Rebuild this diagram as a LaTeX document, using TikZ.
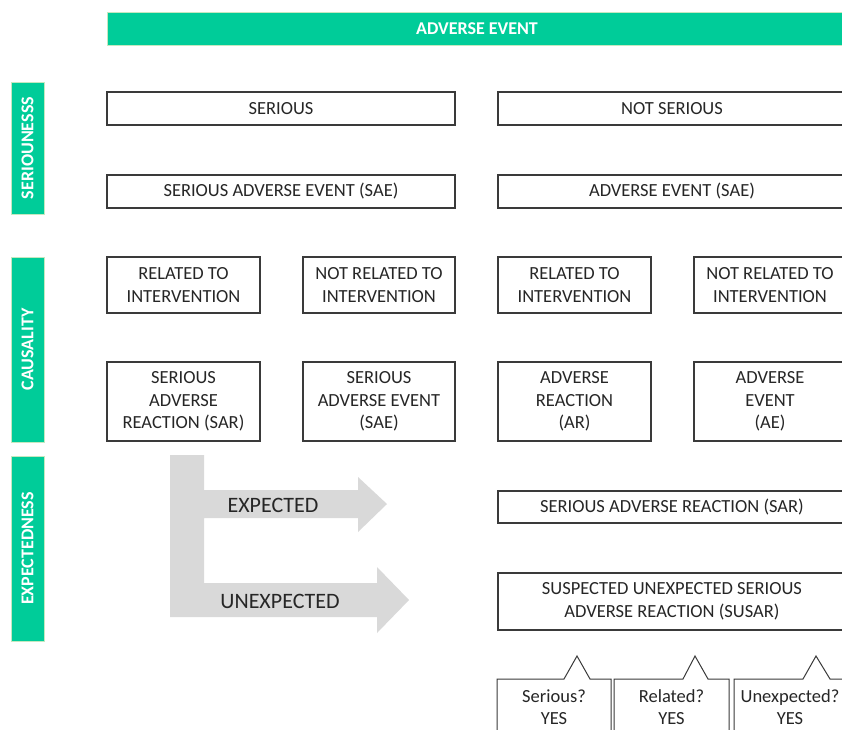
\documentclass[tikz,border=0pt]{standalone}
\usepackage{fontspec}
\setmainfont{Carlito}
\usetikzlibrary{calc}
\pgfdeclarelayer{bg}
\pgfsetlayers{bg,main}
\definecolor{mygreen}{HTML}{00CC99}
\definecolor{greenedge}{HTML}{C5E8C0}
\definecolor{arrowgray}{HTML}{D9D9D9}
\definecolor{boxline}{HTML}{3A3A3A}
\definecolor{txt}{HTML}{262626}
\tikzset{
  box/.style={draw=boxline, line width=1.1pt, fill=white, rectangle, inner sep=0pt, align=center,
    text=txt, font=\fontsize{18.5}{22.7}\selectfont},
  greenbar/.style={fill=mygreen, draw=greenedge, line width=0.8pt, inner sep=0pt, text=white,
    font=\bfseries\fontsize{18}{20}\selectfont},
  sidebar/.style={greenbar, minimum height=33pt, rotate=90},
  callout/.style={draw=boxline, line width=1pt, fill=white},
  calltext/.style={align=center, text=txt, inner sep=0pt, font=\fontsize{18.5}{21.5}\selectfont},
  bigtext/.style={text=txt, inner sep=0pt, font=\fontsize{22}{24}\selectfont},
}
\newcommand\blockarrow[2]{%
  \begin{pgfonlayer}{bg}
  \fill[arrowgray] let \p1=(#2.north), \p2=(#1.south) in
    (\x1-7.5pt,\y2) -- (\x1+7.5pt,\y2) -- (\x1+7.5pt,\y1+23pt) -- (\x1+14.5pt,\y1+23pt)
    -- (\x1,\y1) -- (\x1-14.5pt,\y1+23pt) -- (\x1-7.5pt,\y1+23pt) -- cycle;
  \end{pgfonlayer}}
\begin{document}
\begin{tikzpicture}[x=1pt,y=-1pt]
\useasboundingbox (0,0) rectangle (842,729);
\clip (0,0) rectangle (842,729);
\fill[white] (0,0) rectangle (842,729);
% top bar
\node[greenbar, minimum width=739pt, minimum height=33pt] (top) at (477,28.5) {ADVERSE EVENT};
% side bars
\node[sidebar, minimum width=132pt] (sideser) at (27.5,148) {SERIOUNESSS};
\node[sidebar, minimum width=185pt] (sidecau) at (27.5,349.5) {CAUSALITY};
\node[sidebar, minimum width=185pt] (sideexp) at (27.5,548.5) {EXPECTEDNESS};
% row 1
\node[box, minimum width=348pt, minimum height=33pt] (serious) at (281,108.5) {SERIOUS};
\node[box, minimum width=348pt, minimum height=33pt] (notserious) at (672,108.5) {NOT SERIOUS};
% row 2
\node[box, minimum width=348pt, minimum height=33pt] (sae) at (281,191.5) {SERIOUS ADVERSE EVENT (SAE)};
\node[box, minimum width=348pt, minimum height=33pt] (ae) at (672,191.5) {ADVERSE EVENT (SAE)};
% row 3
\node[box, minimum width=153pt, minimum height=56pt] (rel1) at (183.5,285) {RELATED TO\\INTERVENTION};
\node[box, minimum width=152pt, minimum height=56pt] (nrel1) at (379,285) {NOT RELATED TO\\INTERVENTION};
\node[box, minimum width=153pt, minimum height=56pt] (rel2) at (574.5,285) {RELATED TO\\INTERVENTION};
\node[box, minimum width=152pt, minimum height=56pt] (nrel2) at (770,285) {NOT RELATED TO\\INTERVENTION};
% row 4
\node[box, minimum width=153pt, minimum height=79pt] (sar1) at (183.5,401.5) {SERIOUS\\ADVERSE\\REACTION (SAR)};
\node[box, minimum width=152pt, minimum height=79pt] (sae2) at (379,401.5) {SERIOUS\\ADVERSE EVENT\\(SAE)};
\node[box, minimum width=153pt, minimum height=79pt] (ar) at (574.5,401.5) {ADVERSE\\REACTION\\(AR)};
\node[box, minimum width=152pt, minimum height=79pt] (ae2) at (770,401.5) {ADVERSE\\EVENT\\(AE)};
% right result boxes
\node[box, minimum width=348pt, minimum height=32pt] (sarR) at (672,507) {SERIOUS ADVERSE REACTION (SAR)};
\node[box, minimum width=348pt, minimum height=57pt] (susar) at (672,601.5) {SUSPECTED UNEXPECTED SERIOUS\\ADVERSE REACTION (SUSAR)};
% block arrows
\blockarrow{serious}{sae}
\blockarrow{notserious}{ae}
\blockarrow{sae}{rel1}
\blockarrow{sae}{nrel1}
\blockarrow{ae}{rel2}
\blockarrow{ae}{nrel2}
\blockarrow{rel1}{sar1}
\blockarrow{nrel1}{sae2}
\blockarrow{rel2}{ar}
\blockarrow{nrel2}{ae2}
% big L arrow
\fill[arrowgray] (170,455) -- (204,455) -- (204,490) -- (358,490) -- (358,477) -- (387,504)
  -- (358,532) -- (358,518) -- (204,518) -- (204,583) -- (377,583) -- (377,567) -- (409,600)
  -- (377,633) -- (377,617) -- (170,617) -- cycle;
\node[bigtext] (exptxt) at (273,505) {EXPECTED};
\node[bigtext] (unexptxt) at (280,601) {UNEXPECTED};
% callouts
\draw[callout] (497,735) -- (497,679) -- (564,679) -- (577,656) -- (590,679) -- (611,679) -- (611,735);
\draw[callout] (614,735) -- (614,679) -- (683,679) -- (695,656) -- (708,679) -- (729,679) -- (729,735);
\draw[callout] (734,735) -- (734,679) -- (803,679) -- (816,656) -- (830,679) -- (846,679) -- (846,735);
\node[calltext] (c1) at (554,707) {Serious?\\YES};
\node[calltext] (c2) at (671.5,707) {Related?\\YES};
\node[calltext] (c3) at (790,707) {Unexpected?\\YES};
\end{tikzpicture}
\end{document}
